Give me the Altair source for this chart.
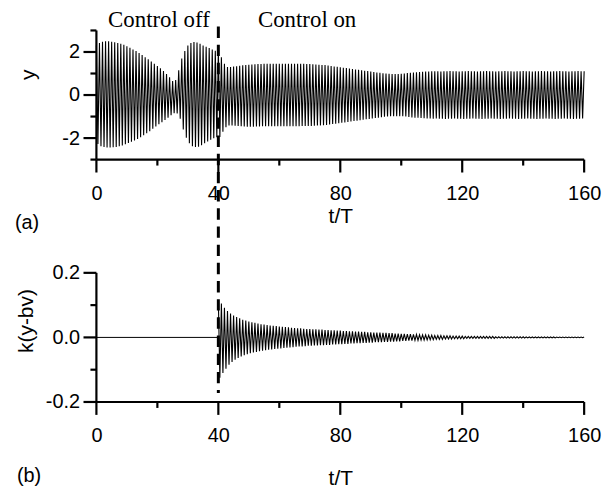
import altair as alt
import pandas as pd

# ---------------- data ----------------
# panel (a): envelope of y, sampled once per period T (t = 0..160)
t_a = list(range(0, 161))
upper_a = [
    2.30, 2.42, 2.48, 2.50, 2.50, 2.48, 2.45, 2.42, 2.38, 2.33,
    2.27, 2.20, 2.12, 2.04, 1.95, 1.86, 1.76, 1.66, 1.56, 1.45,
    1.35, 1.24, 1.12, 0.98, 0.82, 0.65, 0.70, 1.15, 1.70, 2.05,
    2.30, 2.42, 2.46, 2.44, 2.38, 2.30, 2.24, 2.18, 2.12, 2.06,
    2.05, 1.75, 1.45, 1.30, 1.30, 1.32, 1.34, 1.36, 1.38, 1.40,
    1.41, 1.42, 1.43, 1.44, 1.44, 1.45, 1.45, 1.45, 1.45, 1.45,
    1.45, 1.45, 1.45, 1.45, 1.45, 1.45, 1.45, 1.45, 1.45, 1.44,
    1.44, 1.43, 1.42, 1.41, 1.40, 1.39, 1.37, 1.35, 1.33, 1.31,
    1.29, 1.27, 1.25, 1.23, 1.21, 1.19, 1.17, 1.15, 1.13, 1.11,
    1.09, 1.07, 1.05, 1.03, 1.01, 1.00, 0.99, 0.98, 0.98, 0.98,
    0.99, 1.00, 1.02, 1.04, 1.05, 1.06, 1.07, 1.08, 1.09, 1.09,
    1.10, 1.10, 1.10, 1.09, 1.10, 1.10, 1.11, 1.10, 1.10, 1.09,
    1.10, 1.10, 1.11, 1.10, 1.10, 1.09, 1.10, 1.10, 1.11, 1.10,
    1.10, 1.09, 1.10, 1.10, 1.11, 1.10, 1.10, 1.09, 1.10, 1.10,
    1.11, 1.10, 1.10, 1.09, 1.10, 1.10, 1.11, 1.10, 1.10, 1.09,
    1.10, 1.10, 1.11, 1.10, 1.10, 1.09, 1.10, 1.10, 1.11, 1.10, 1.10,
]
lower_a = [
    -2.27, -2.38, -2.42, -2.44, -2.44, -2.43, -2.41, -2.38, -2.34, -2.29,
    -2.23, -2.17, -2.11, -2.04, -1.96, -1.87, -1.78, -1.68, -1.57, -1.46,
    -1.36, -1.26, -1.16, -1.05, -0.94, -0.84, -0.86, -1.10, -1.60, -1.98,
    -2.24, -2.38, -2.42, -2.40, -2.33, -2.24, -2.16, -2.08, -2.01, -1.96,
    -1.95, -1.70, -1.50, -1.42, -1.42, -1.43, -1.44, -1.45, -1.46, -1.47,
    -1.47, -1.47, -1.46, -1.46, -1.45, -1.45, -1.45, -1.45, -1.45, -1.45,
    -1.45, -1.45, -1.45, -1.45, -1.45, -1.45, -1.45, -1.44, -1.44, -1.44,
    -1.44, -1.43, -1.42, -1.41, -1.40, -1.39, -1.37, -1.35, -1.33, -1.31,
    -1.29, -1.27, -1.25, -1.23, -1.21, -1.19, -1.17, -1.15, -1.13, -1.11,
    -1.09, -1.07, -1.05, -1.03, -1.01, -1.00, -0.99, -0.98, -0.98, -0.98,
    -0.99, -1.00, -1.02, -1.04, -1.05, -1.06, -1.07, -1.08, -1.09, -1.09,
    -1.10, -1.09, -1.10, -1.10, -1.11, -1.10, -1.10, -1.09, -1.10, -1.10,
    -1.11, -1.10, -1.10, -1.09, -1.10, -1.10, -1.11, -1.10, -1.10, -1.09,
    -1.10, -1.10, -1.11, -1.10, -1.10, -1.09, -1.10, -1.10, -1.11, -1.10,
    -1.10, -1.09, -1.10, -1.10, -1.11, -1.10, -1.10, -1.09, -1.10, -1.10,
    -1.11, -1.10, -1.10, -1.09, -1.10, -1.10, -1.11, -1.10, -1.10, -1.09, -1.10,
]

# panel (b): control signal k(y-bv); zero before control, envelope from t = 40
flat_t = [0, 40]
flat_v = [0.0, 0.0]
t_b = list(range(40, 161))
upper_b = [
    0.115, 0.105, 0.092, 0.082, 0.074, 0.068, 0.063, 0.059, 0.055, 0.052,
    0.049, 0.047, 0.045, 0.043, 0.041, 0.040, 0.038, 0.037, 0.036, 0.035,
    0.034, 0.033, 0.032, 0.031, 0.030, 0.029, 0.028, 0.028, 0.027, 0.026,
    0.026, 0.025, 0.025, 0.024, 0.024, 0.023, 0.023, 0.022, 0.022, 0.021,
    0.021, 0.020, 0.020, 0.019, 0.019, 0.018, 0.018, 0.017, 0.017, 0.016,
    0.016, 0.015, 0.015, 0.015, 0.014, 0.014, 0.013, 0.013, 0.012, 0.012,
    0.011, 0.011, 0.010, 0.010, 0.009, 0.009, 0.008, 0.008, 0.008, 0.007,
    0.007, 0.006, 0.006, 0.006, 0.005, 0.005, 0.005, 0.004, 0.004, 0.004,
    0.004, 0.003, 0.003, 0.003, 0.003, 0.003, 0.003, 0.003, 0.003, 0.003,
    0.003, 0.002, 0.002, 0.002, 0.002, 0.002, 0.002, 0.002, 0.002, 0.002,
    0.002, 0.0015, 0.0015, 0.0015, 0.0015, 0.0015, 0.0015, 0.0015, 0.0015, 0.0015,
    0.0015, 0.001, 0.001, 0.001, 0.001, 0.001, 0.001, 0.001, 0.001, 0.001, 0.001,
]
lower_b = [
    -0.125, -0.110, -0.097, -0.085, -0.076, -0.069, -0.064, -0.059, -0.055, -0.052,
    -0.049, -0.047, -0.045, -0.043, -0.041, -0.040, -0.038, -0.037, -0.036, -0.035,
    -0.034, -0.033, -0.032, -0.031, -0.030, -0.029, -0.028, -0.028, -0.027, -0.026,
    -0.026, -0.025, -0.025, -0.024, -0.024, -0.023, -0.023, -0.022, -0.022, -0.021,
    -0.021, -0.020, -0.020, -0.019, -0.019, -0.018, -0.018, -0.017, -0.017, -0.016,
    -0.016, -0.015, -0.015, -0.015, -0.014, -0.014, -0.013, -0.013, -0.012, -0.012,
    -0.011, -0.011, -0.010, -0.010, -0.009, -0.009, -0.008, -0.008, -0.008, -0.007,
    -0.007, -0.006, -0.006, -0.006, -0.005, -0.005, -0.005, -0.004, -0.004, -0.004,
    -0.004, -0.003, -0.003, -0.003, -0.003, -0.003, -0.003, -0.003, -0.003, -0.003,
    -0.003, -0.002, -0.002, -0.002, -0.002, -0.002, -0.002, -0.002, -0.002, -0.002,
    -0.002, -0.0015, -0.0015, -0.0015, -0.0015, -0.0015, -0.0015, -0.0015, -0.0015, -0.0015,
    -0.0015, -0.001, -0.001, -0.001, -0.001, -0.001, -0.001, -0.001, -0.001, -0.001, -0.001,
]

x_range = [0, 160]
ya_range = [-3, 3]
yb_range = [-0.2, 0.2]
x_major = [0, 40, 80, 120, 160]
x_minor = [20, 60, 100, 140]
ya_major = [-2, 0, 2]
ya_minor = [-3, -1, 1, 3]
yb_major = [-0.2, 0.0, 0.2]
yb_minor = [-0.1, 0.1]
control_time = [40]
annotations = ["Control off", "Control on"]
annotation_t = [20.5, 53]
panel_labels = ["(a)", "(b)"]


def oscillation(ts, up, lo):
    """Trace each period: maximum at t, minimum half a period later."""
    rows = []
    for t, u, l in zip(ts, up, lo):
        rows.append({"t": t, "v": u})
        if t + 0.5 <= 160:
            rows.append({"t": t + 0.5, "v": l})
    return pd.DataFrame(rows)


df_a = oscillation(t_a, upper_a, lower_a)
df_b = oscillation(t_b, upper_b, lower_b)
df_flat = pd.DataFrame({"t": flat_t, "v": flat_v})
df_ctrl = pd.DataFrame({"t": control_time})

W, H = 491, 130
SANS = "Liberation Sans"
SERIF = "Liberation Serif"
MINOR = 6
MAJOR = 13
AXW = 2.2

x_scale = alt.Scale(domain=x_range, nice=False, zero=False)
ya_scale = alt.Scale(domain=ya_range, nice=False)
yb_scale = alt.Scale(domain=yb_range, nice=False)


def x_axis(title_y):
    return alt.Axis(
        orient="bottom", values=x_major, format="d", labelPadding=MAJOR + 11,
        domain=False, ticks=False,
        title="t/T", titleY=title_y, titleBaseline="alphabetic",
    )


ya_axis = alt.Axis(
    orient="left", values=ya_major,
    labelExpr="datum.value < 0 ? '-' + format(-datum.value, 'd') : format(datum.value, 'd')",
    labelPadding=MAJOR + 4, domain=False, ticks=False,
    title="y", titleAngle=270, titleX=-68, titleY=44, titleAlign="center", titleBaseline="middle",
)

yb_axis = alt.Axis(
    orient="left", values=yb_major,
    labelExpr="datum.value < -0.001 ? '-' + format(-datum.value, '.1f') : format(abs(datum.value), '.1f')",
    labelPadding=MAJOR + 4, domain=False, ticks=False,
    title="k(y-bv)", titleAngle=270, titleX=-70, titleY=48, titleAlign="center", titleBaseline="middle",
)


def frame(yscale, yrange, ymajor, yminor):
    """Axis lines and tick marks (major and minor), positioned through the scales."""
    parts = []
    parts.append(alt.Chart(pd.DataFrame({"a": [x_range[0]], "b": [x_range[1]]})).mark_rule(
        color="black", strokeWidth=AXW).encode(
        x=alt.X("a:Q", scale=x_scale), x2="b:Q", y=alt.value(H)))
    parts.append(alt.Chart(pd.DataFrame({"a": [yrange[0]], "b": [yrange[1]]})).mark_rule(
        color="black", strokeWidth=AXW).encode(
        y=alt.Y("a:Q", scale=yscale), y2="b:Q", x=alt.value(0)))
    for vals, size in ((x_major, MAJOR), (x_minor, MINOR)):
        parts.append(alt.Chart(pd.DataFrame({"t": vals})).mark_rule(color="black", strokeWidth=AXW).encode(
            x=alt.X("t:Q", scale=x_scale), y=alt.value(H), y2=alt.value(H + size)))
    for vals, size in ((ymajor, MAJOR), (yminor, MINOR)):
        parts.append(alt.Chart(pd.DataFrame({"v": vals})).mark_rule(color="black", strokeWidth=AXW).encode(
            y=alt.Y("v:Q", scale=yscale), x=alt.value(-size), x2=alt.value(0)))
    return parts


# ---------------- panel (a) ----------------
line_a = alt.Chart(df_a).mark_line(color="black", strokeWidth=1.1).encode(
    x=alt.X("t:Q", scale=x_scale, axis=x_axis(63)),
    y=alt.Y("v:Q", scale=ya_scale, axis=ya_axis),
)

ctrl_rule = alt.Chart(df_ctrl).mark_rule(
    color="black", strokeWidth=3, strokeDash=[11.5, 6.8]
).encode(
    x=alt.X("t:Q", scale=x_scale),
    y=alt.value(-4),
    y2=alt.value(365),
)

text_df = pd.DataFrame({"t": annotation_t, "label": annotations})
txt_off = alt.Chart(text_df.iloc[[0]]).mark_text(
    font=SERIF, fontSize=23, color="black", align="center", baseline="alphabetic"
).encode(x=alt.X("t:Q", scale=x_scale), y=alt.value(-3), text="label:N")
txt_on = alt.Chart(text_df.iloc[[1]]).mark_text(
    font=SERIF, fontSize=23, color="black", align="left", baseline="alphabetic"
).encode(x=alt.X("t:Q", scale=x_scale), y=alt.value(-3), text="label:N")

lab_a = alt.Chart(pd.DataFrame({"label": [panel_labels[0]]})).mark_text(
    font=SANS, fontSize=20, color="black", align="left", baseline="alphabetic"
).encode(x=alt.value(-82), y=alt.value(200), text="label:N")

panel_a = alt.layer(
    line_a, *frame(ya_scale, ya_range, ya_major, ya_minor), txt_off, txt_on, lab_a, ctrl_rule
).properties(width=W, height=H)

# ---------------- panel (b) ----------------
flat_b = alt.Chart(df_flat).mark_line(color="black", strokeWidth=1).encode(
    x=alt.X("t:Q", scale=x_scale, axis=x_axis(83)),
    y=alt.Y("v:Q", scale=yb_scale, axis=yb_axis),
)
line_b = alt.Chart(df_b).mark_line(color="black", strokeWidth=1.1).encode(
    x=alt.X("t:Q", scale=x_scale),
    y=alt.Y("v:Q", scale=yb_scale),
)
lab_b = alt.Chart(pd.DataFrame({"label": [panel_labels[1]]})).mark_text(
    font=SANS, fontSize=20, color="black", align="left", baseline="alphabetic"
).encode(x=alt.value(-80), y=alt.value(211), text="label:N")

panel_b = alt.layer(
    flat_b, line_b, *frame(yb_scale, yb_range, yb_major, yb_minor), lab_b
).properties(width=W, height=H)

chart = alt.vconcat(panel_a, panel_b, spacing=114, bounds="flush").properties(
    padding={"left": 7, "top": 0, "right": 5, "bottom": 0},
    background="white",
).configure_view(stroke=None).configure_axis(
    labelFont=SANS, labelFontSize=20, labelColor="black",
    titleFont=SANS, titleFontSize=21, titleColor="black", titleFontWeight="normal",
    grid=False, labelFlush=False, labelOverlap=False,
)

chart.save("out.html", embed_options={"renderer": "svg", "actions": False})
